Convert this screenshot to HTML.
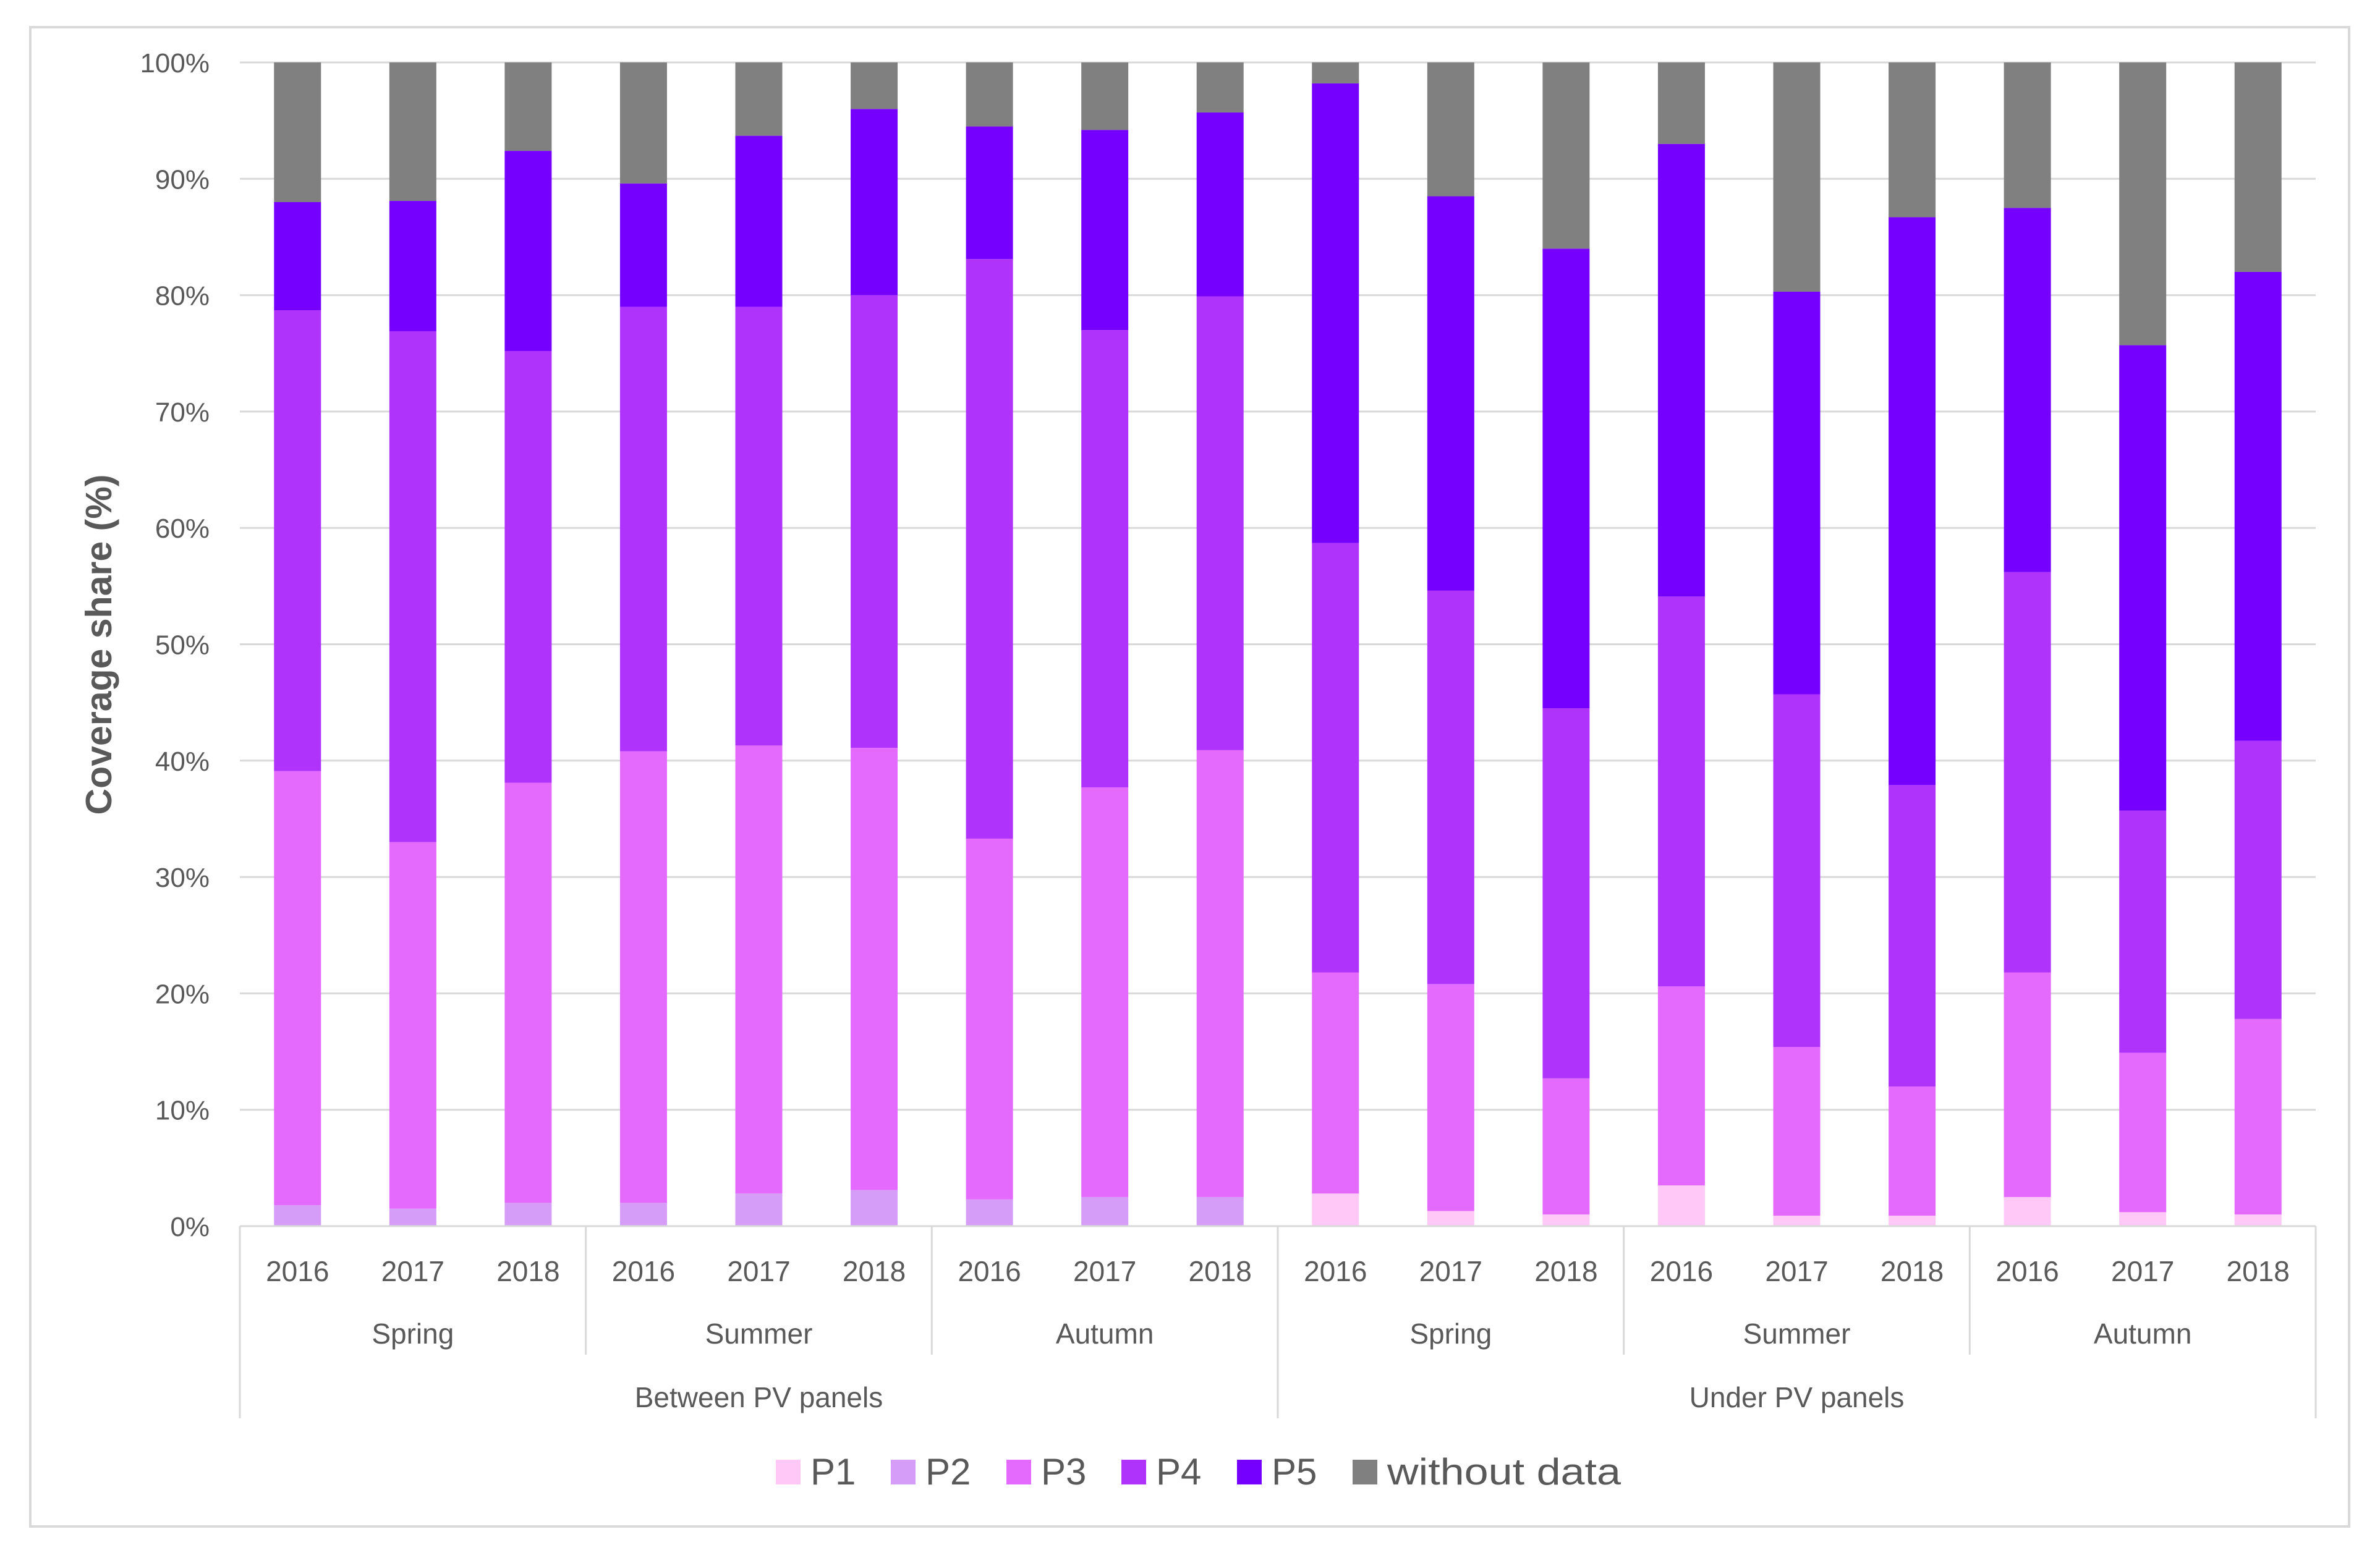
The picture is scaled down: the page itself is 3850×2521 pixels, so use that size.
<!DOCTYPE html>
<html><head><meta charset="utf-8"><style>
html,body{margin:0;padding:0;background:#fff;}
svg{display:block;font-family:"Liberation Sans",sans-serif;}
</style></head><body>
<svg id="chart" width="3850" height="2521" viewBox="0 0 3850 2521" xmlns="http://www.w3.org/2000/svg">
<rect x="49" y="44" width="3751" height="2426" fill="#fff" stroke="#d9d9d9" stroke-width="4"/>
<g id="grid"></g><g id="bars"></g><g id="axis"></g><g id="legend"></g>
<text transform="translate(180,1043) rotate(-90)" text-anchor="middle" font-size="59" font-weight="bold" fill="#595959">Coverage share (%)</text>
</svg>
<script>
const years = ["2016","2017","2018","2016","2017","2018","2016","2017","2018","2016","2017","2018","2016","2017","2018","2016","2017","2018"];
const seasons = ["Spring","Summer","Autumn","Spring","Summer","Autumn"];
const groups = ["Between PV panels","Under PV panels"];
const p1 = [0,0,0,0,0,0,0,0,0,2.8,1.3,1.0,3.5,0.9,0.9,2.5,1.2,1.0];
const p2 = [1.8,1.5,2.0,2.0,2.8,3.1,2.3,2.5,2.5,0,0,0,0,0,0,0,0,0];
const p3 = [37.3,31.5,36.1,38.8,38.5,38.0,31.0,35.2,38.4,19.0,19.5,11.7,17.1,14.5,11.1,19.3,13.7,16.8];
const p4 = [39.6,43.9,37.1,38.2,37.7,38.9,49.8,39.3,39.0,36.9,33.8,31.8,33.5,30.3,25.9,34.4,20.8,23.9];
const p5 = [9.3,11.2,17.2,10.6,14.7,16.0,11.4,17.2,15.8,39.5,33.9,39.5,38.9,34.6,48.8,31.3,40.0,40.3];
const yTicks = [0,10,20,30,40,50,60,70,80,90,100];
const seriesNames = ["P1","P2","P3","P4","P5","without data"];
const colors = ["#ffc8f6","#d59cf8","#e46afe","#b033fb","#7600fe","#808080"];
const NS="http://www.w3.org/2000/svg";
const L=388,R=3746,T=101,B=1984;
const n=years.length, cw=(R-L)/n, bw=76;
function y(v){return B-(B-T)*v/100;}
function x(i){return L+cw*(i+0.5);}
function mk(tag,attrs,parent,txt){const e=document.createElementNS(NS,tag);for(const k in attrs)e.setAttribute(k,attrs[k]);if(txt!==undefined)e.textContent=txt;parent.appendChild(e);return e;}
const grid=document.getElementById('grid'),bars=document.getElementById('bars'),axis=document.getElementById('axis'),legend=document.getElementById('legend');
yTicks.forEach(t=>{
  const g=mk('line',{x1:L,x2:R,y1:y(t),y2:y(t),stroke:'#d9d9d9','stroke-width':3},grid);
  
  
  const lb=mk('text',{x:339,y:y(t)+16,'text-anchor':'end','font-size':44,fill:'#595959'},axis,t+'%');
  
  
});
for(let i=0;i<n;i++){
  const vals=[p1[i],p2[i],p3[i],p4[i],p5[i]];
  const s=vals.reduce((a,b)=>a+b,0);
  vals.push(Math.max(0,100-s));
  let c=0;
  vals.forEach((v,k)=>{
    if(v<=0)return;
    const r=mk('rect',{x:x(i)-bw/2,y:y(c+v),width:bw,height:y(c)-y(c+v),fill:colors[k]},bars);
    
    
    c+=v;
  });
  const yl=mk('text',{x:x(i),y:2073,'text-anchor':'middle','font-size':46,fill:'#595959'},axis,years[i]);
  
  
}
mk('line',{x1:L,x2:R,y1:B,y2:B,stroke:'#d9d9d9','stroke-width':3},axis);
for(let s=0;s<=6;s++){
  const xx=L+cw*3*s;
  const big=(s%3===0);
  mk('line',{x1:xx,x2:xx,y1:B,y2:big?2295:2192,stroke:'#d9d9d9','stroke-width':3},axis);
}
seasons.forEach((s,k)=>{
  const t=mk('text',{x:L+cw*(3*k+1.5),y:2174,'text-anchor':'middle','font-size':46,fill:'#595959'},axis,s);
  
  
});
groups.forEach((g,k)=>{
  const t=mk('text',{x:L+cw*(9*k+4.5),y:2277,'text-anchor':'middle','font-size':46,fill:'#595959'},axis,g);
  
  
});
const lx=[1255,1441,1628,1814,2001,2188];
seriesNames.forEach((nm,k)=>{
  const r=mk('rect',{x:lx[k],y:2362,width:40,height:40,fill:colors[k]},legend);
  
  
  const attrs={x:lx[k]+56,y:2402,'font-size':60,fill:'#595959'};
  if(k===5){attrs.textLength=378;attrs.lengthAdjust='spacingAndGlyphs';}
  const t=mk('text',attrs,legend,nm);
  
  
});
</script>
</body></html>
